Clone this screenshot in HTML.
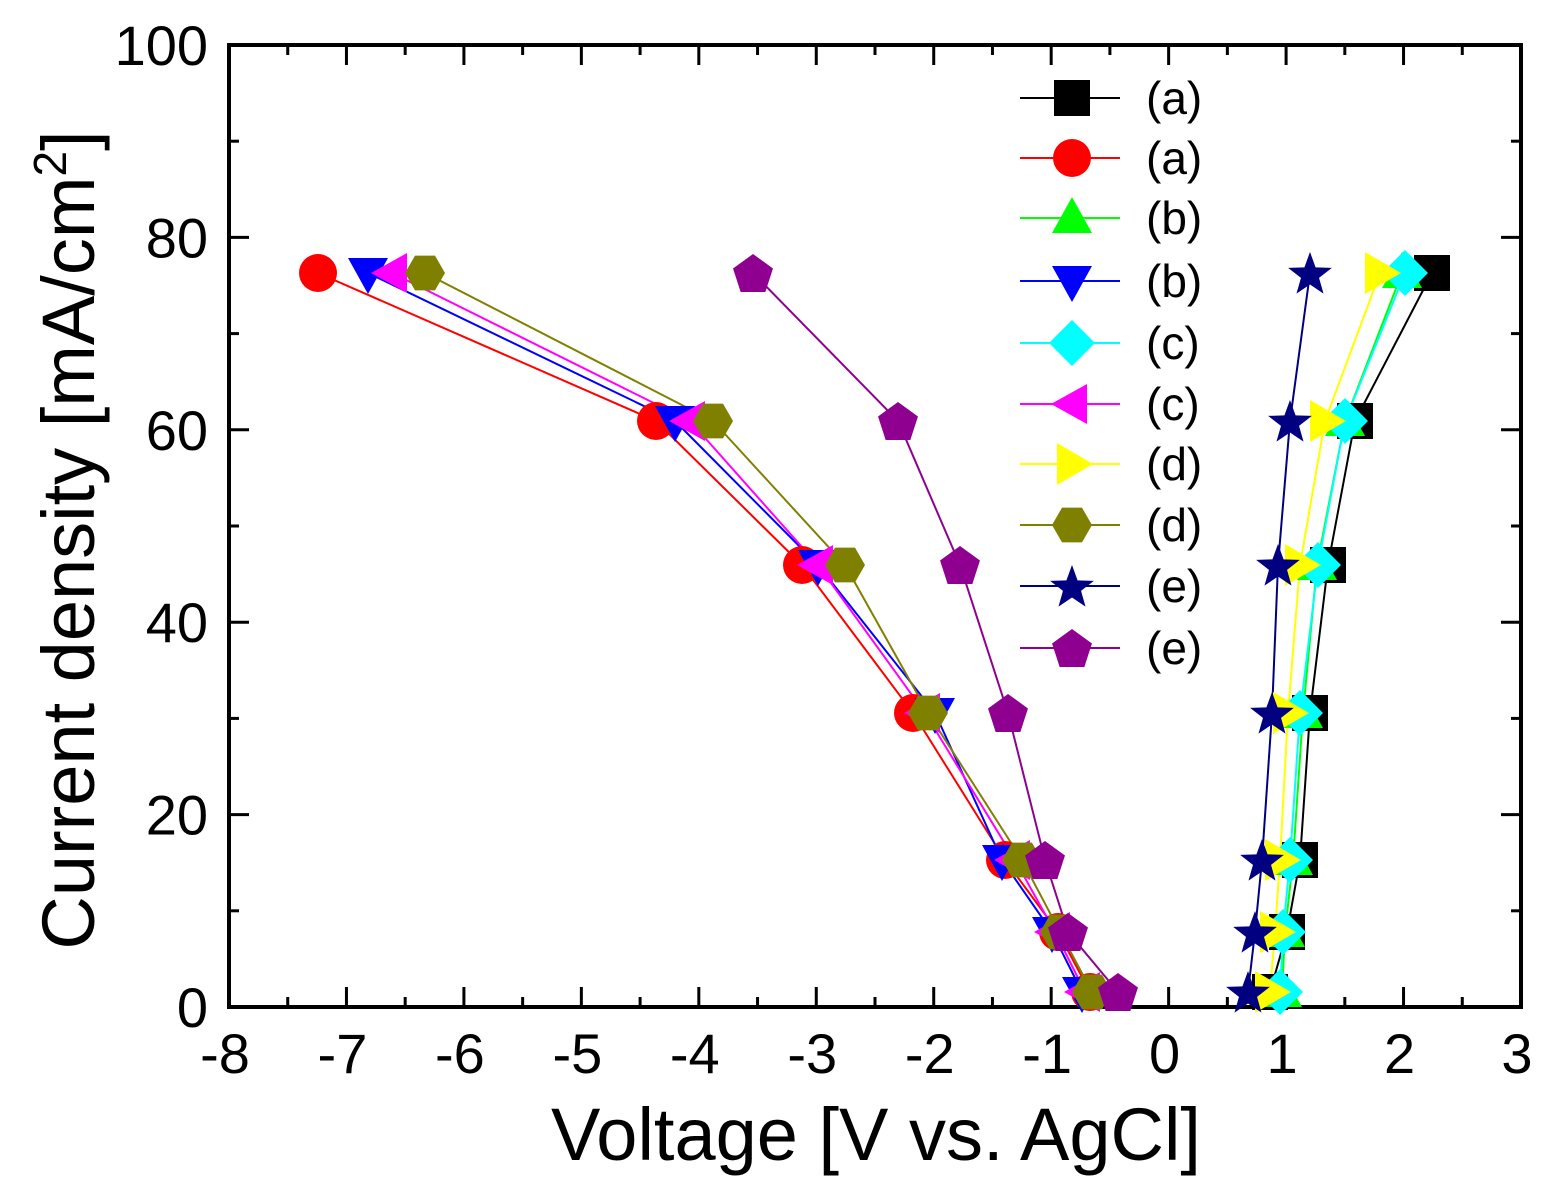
<!DOCTYPE html>
<html><head><meta charset="utf-8"><style>
html,body{margin:0;padding:0;background:#fff}
svg{display:block}
text{font-family:"Liberation Sans",Arial,sans-serif;fill:#000}
</style></head><body>
<svg id="s" width="1556" height="1192" viewBox="0 0 1556 1192" xmlns="http://www.w3.org/2000/svg">
<g id="ax"></g>
<g id="data"></g>
<g id="leg"></g>
</svg>
<script>
const NS="http://www.w3.org/2000/svg";
function el(p,t,a,txt){const e=document.createElementNS(NS,t);for(const k in a)e.setAttribute(k,a[k]);if(txt!==undefined)e.textContent=txt;p.appendChild(e);return e;}
const ax=document.getElementById('ax'),data=document.getElementById('data'),leg=document.getElementById('leg');
const X0=229,X1=1521,Y0=1007,Y1=45;
const xp=v=>X0+(v+8)*(X1-X0)/11, yp=v=>Y0-v*(Y0-Y1)/100;
for(let v=-8;v<=3;v+=0.5){const x=xp(v);const maj=Math.abs(v-Math.round(v))<1e-6;
 el(ax,'line',{x1:x,x2:x,y1:Y0,y2:Y0-(maj?20:10),stroke:'#000','stroke-width':3});
 el(ax,'line',{x1:x,x2:x,y1:Y1,y2:Y1+(maj?20:10),stroke:'#000','stroke-width':3});
 if(maj)el(ax,'text',{x:x-4,y:1073,'font-size':56,'text-anchor':'middle'},String(v));}
for(let v=0;v<=100;v+=10){const y=yp(v);const maj=v%20==0;
 el(ax,'line',{x1:X0,x2:X0+(maj?20:10),y1:y,y2:y,stroke:'#000','stroke-width':3});
 el(ax,'line',{x1:X1,x2:X1-(maj?20:10),y1:y,y2:y,stroke:'#000','stroke-width':3});
 if(maj)el(ax,'text',{x:208,y:y+20,'font-size':56,'text-anchor':'end'},String(v));}
el(ax,'rect',{x:X0,y:Y1,width:X1-X0,height:Y0-Y1,fill:'none',stroke:'#000','stroke-width':4});
el(ax,'text',{x:876,y:1160,'font-size':74,'text-anchor':'middle'},'Voltage [V vs. AgCl]');
const yt=el(ax,'text',{x:0,y:0,'font-size':74,'text-anchor':'middle',transform:'translate(94,540) rotate(-90)'},'Current density [mA/cm');
el(yt,'tspan',{dy:-28,'font-size':46},'2');el(yt,'tspan',{dy:28},']');

function marker(p,type,x,y,c){
 if(type=='sq')el(p,'rect',{x:x-18,y:y-18,width:36,height:36,fill:c});
 else if(type=='ci')el(p,'circle',{cx:x,cy:y,r:19,fill:c});
 else{let pts;
  if(type=='up')pts=[[0,-21],[20,15],[-20,15]];
  else if(type=='dn')pts=[[0,21],[20,-15],[-20,-15]];
  else if(type=='lf')pts=[[-21,0],[15,-20],[15,20]];
  else if(type=='rt')pts=[[21,0],[-15,-21],[-15,21]];
  else if(type=='di')pts=[[0,-23],[23,0],[0,23],[-23,0]];
  else if(type=='hx'){pts=[];for(let i=0;i<6;i++){const a=Math.PI/3*i;pts.push([20*Math.cos(a),20*Math.sin(a)]);}}
  else if(type=='pe'){pts=[];for(let i=0;i<5;i++){const a=-Math.PI/2+2*Math.PI/5*i;pts.push([21*Math.cos(a),21*Math.sin(a)+2]);}}
  else if(type=='st'){pts=[];for(let i=0;i<10;i++){const a=-Math.PI/2+Math.PI/5*i;const rr=i%2?9.5:23;pts.push([rr*Math.cos(a),rr*Math.sin(a)+2]);}}
  el(p,'polygon',{points:pts.map(q=>(x+q[0])+','+(y+q[1])).join(' '),fill:c});}
}
const ys=[992,932,860,713,565,421,273];
const series=[
 ['sq','#000',[1270,1287,1300,1310,1328,1355,1432]],
 ['ci','#f00',[1090,1058,1005,913,802,656,318]],
 ['up','#0f0',[1282,1285,1293,1303,1317,1345,1402]],
 ['dn','#00f',[1082,1052,1002,935,818,675,368]],
 ['di','#0ff',[1280,1283,1290,1300,1318,1345,1405]],
 ['lf','#f0f',[1085,1055,1015,925,818,690,392]],
 ['rt','#ff0',[1270,1275,1280,1288,1300,1325,1380]],
 ['hx','#808000',[1092,1060,1022,928,845,713,425]],
 ['st','#000080',[1248,1255,1262,1272,1278,1290,1310]],
 ['pe','#900090',[1118,1068,1045,1008,960,898,753]]];
const labels=['(a)','(a)','(b)','(b)','(c)','(c)','(d)','(d)','(e)','(e)'];
const ly=[98,158,218,281,343,404,464,525,586,648];
series.forEach((s,i)=>{
 el(data,'polyline',{points:s[2].map((x,j)=>x+','+ys[j]).join(' '),fill:'none',stroke:s[1],'stroke-width':2});});
series.forEach((s,i)=>{s[2].forEach((x,j)=>marker(data,s[0],x,ys[j],s[1]));});
series.forEach((s,i)=>{
 el(leg,'line',{x1:1020,x2:1120,y1:ly[i],y2:ly[i],stroke:s[1],'stroke-width':2});
 marker(leg,s[0],1072,ly[i],s[1]);
 el(leg,'text',{x:1146,y:ly[i]+16,'font-size':46},labels[i]);});
</script>
</body></html>
